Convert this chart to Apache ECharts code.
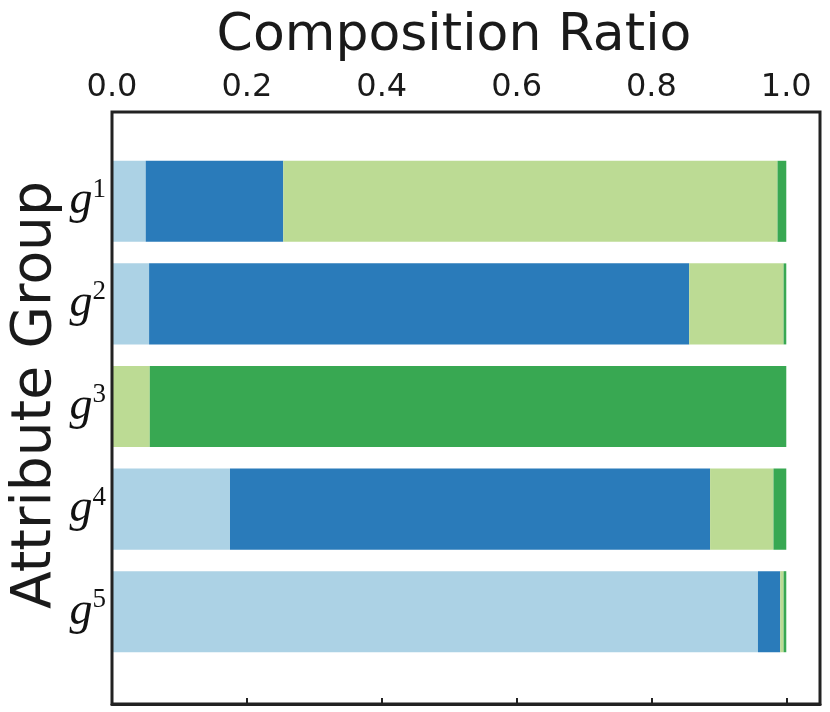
<!DOCTYPE html>
<html>
<head>
<meta charset="utf-8">
<script src="https://cdn.jsdelivr.net/npm/echarts@6/dist/echarts.min.js"></script>
<style>html,body{margin:0;padding:0;background:#fff;}#c{width:830px;height:712px;}</style>
</head>
<body>
<div id="c"></div>
<script>
const groups = ['1', '2', '3', '4', '5'];
const seriesNames = ['c1', 'c2', 'c3', 'c4'];
const lightBlue = [0.050, 0.055, 0.000, 0.175, 0.958];
const darkBlue = [0.204, 0.801, 0.000, 0.712, 0.033];
const lightGreen = [0.733, 0.140, 0.056, 0.094, 0.005];
const darkGreen = [0.013, 0.004, 0.944, 0.019, 0.004];
const xTicks = [0.0, 0.2, 0.4, 0.6, 0.8, 1.0];
const colors = ['#acd2e5', '#2a7bba', '#bcdb94', '#38a852'];
const values = [lightBlue, darkBlue, lightGreen, darkGreen];

const chart = echarts.init(document.getElementById('c'), null, {renderer: 'canvas'});
const option = {
  backgroundColor: '#fff',
  animation: false,
  grid: [
    {left: 112, right: 10, top: 112, bottom: 8, show: true, borderColor: '#222', borderWidth: 3, backgroundColor: 'transparent', z: 10},
    {left: 112, right: 10, top: 150, bottom: 49, show: false}
  ],
  xAxis: [
    {
      gridIndex: 0, type: 'value', min: 0, max: 1.05, position: 'top',
      axisLine: {show: true, lineStyle: {color: '#222', width: 3}},
      axisTick: {show: true, inside: false, length: 6, lineStyle: {color: '#222', width: 2}, customValues: xTicks},
      axisLabel: {show: true, customValues: xTicks, formatter: v => v.toFixed(1), fontFamily: 'DejaVu Sans', fontSize: 32, color: '#1a1a1a', margin: 8},
      splitLine: {show: false}
    },
    {gridIndex: 1, type: 'value', min: 0, max: 1.05, show: false}
  ],
  yAxis: [
    {gridIndex: 0, type: 'value', show: false},
    {
      gridIndex: 1, type: 'category', data: groups, inverse: true,
      axisLine: {show: false}, axisTick: {show: false}, splitLine: {show: false},
      axisLabel: {
        margin: 6,
        formatter: v => '{g|g}{s|' + v + '}',
        rich: {
          g: {fontFamily: 'Liberation Serif', fontStyle: 'italic', fontSize: 46, lineHeight: 50, color: '#111'},
          s: {fontFamily: 'Liberation Serif', fontSize: 27, lineHeight: 28, verticalAlign: 'top', color: '#111'}
        }
      }
    }
  ],
  graphic: [
    {type: 'text', x: 454, y: 36, style: {text: 'Composition Ratio', fontFamily: 'DejaVu Sans', fontSize: 52, fill: '#1a1a1a', align: 'center', verticalAlign: 'middle'}},
    {type: 'text', x: 36, y: 395, rotation: Math.PI / 2, style: {text: 'Attribute Group', fontFamily: 'DejaVu Sans', fontSize: 55, fill: '#1a1a1a', align: 'center', verticalAlign: 'middle'}}
  ],
  series: values.map((arr, i) => ({
    name: seriesNames[i], type: 'bar', stack: 'total', xAxisIndex: 1, yAxisIndex: 1,
    barWidth: '79%', data: arr, itemStyle: {color: colors[i]}
  }))
};
chart.setOption(option);
</script>
</body>
</html>
